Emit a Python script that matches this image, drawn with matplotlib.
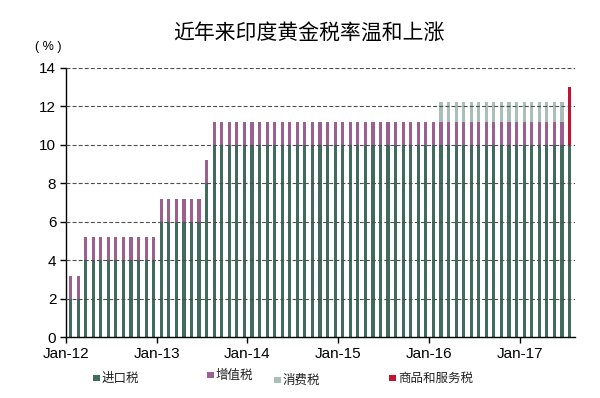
import numpy as np
import matplotlib.pyplot as plt
from matplotlib.patches import Rectangle

plt.rcParams['font.family'] = ['Liberation Sans', 'Noto Sans CJK SC']

# monthly rates, Jan-12 .. Jul-17 (%)
import_duty = [2, 2, 4, 4, 4, 4, 4, 4, 4, 4, 4, 4,            # 2012
               6, 6, 6, 6, 6, 6, 8, 10, 10, 10, 10, 10,       # 2013
               10, 10, 10, 10, 10, 10, 10, 10, 10, 10, 10, 10,  # 2014
               10, 10, 10, 10, 10, 10, 10, 10, 10, 10, 10, 10,  # 2015
               10, 10, 10, 10, 10, 10, 10, 10, 10, 10, 10, 10,  # 2016
               10, 10, 10, 10, 10, 10, 10]                    # 2017
vat = [1.2] * 66 + [0]
excise = [0] * 49 + [1] * 17 + [0]
gst = [0] * 66 + [3]

year_labels = ['Jan-12', 'Jan-13', 'Jan-14', 'Jan-15', 'Jan-16', 'Jan-17']
names = ['进口税', '增值税', '消费税', '商品和服务税']
colors = ['#406b5d', '#9b5f92', '#a9bfb7', '#c41230']

fig = plt.figure(figsize=(6, 3.98), dpi=100)
ax = fig.add_axes([0.11, 0.153, 0.848, 0.677])

x = np.arange(len(import_duty)) + 0.6
w = 0.42
bottom = np.zeros(len(x))
for vals, c in zip([import_duty, vat, excise, gst], colors):
    vals = np.array(vals, dtype=float)
    ax.bar(x, vals, w, bottom=bottom, color=c, linewidth=0, zorder=2)
    bottom += vals

ax.set_xlim(0, 67.3)
ax.set_ylim(0, 14)
ax.set_yticks(np.arange(0, 15, 2))
ax.set_xticks(np.arange(0, 61, 12))
ax.set_xticklabels(year_labels)
for yv in range(2, 15, 2):
    ax.axhline(yv, color='#4d4d4d', lw=0.8, ls=(0, (3.5, 2)), zorder=3)

for s in ['top', 'right']:
    ax.spines[s].set_visible(False)
for s in ['left', 'bottom']:
    ax.spines[s].set_color('black')
    ax.spines[s].set_linewidth(1.0)
ax.tick_params(axis='both', direction='out', length=4, width=1, labelsize=11, pad=3)

fig.text(0.515, 0.917, '近年来印度黄金税率温和上涨', ha='center', va='center',
         fontsize=15, family=['Noto Sans CJK SC'])
fig.text(0.08, 0.882, '( % )', ha='center', va='center', fontsize=9)

# legend entries placed under the axis
leg_x = [93, 207, 274, 389]
leg_y = [378, 375, 380, 378]
for lx, ly, name, c in zip(leg_x, leg_y, names, colors):
    fx, fy = lx / 600, 1 - ly / 398
    fig.add_artist(Rectangle((fx, fy - 3 / 398), 6.5 / 600, 6.5 / 398,
                             transform=fig.transFigure, color=c, lw=0))
    fig.text(fx + 9 / 600, fy, name, ha='left', va='center', fontsize=9,
             family=['Noto Sans CJK SC'], color='#222222')

fig.savefig('out.png', dpi=100)
